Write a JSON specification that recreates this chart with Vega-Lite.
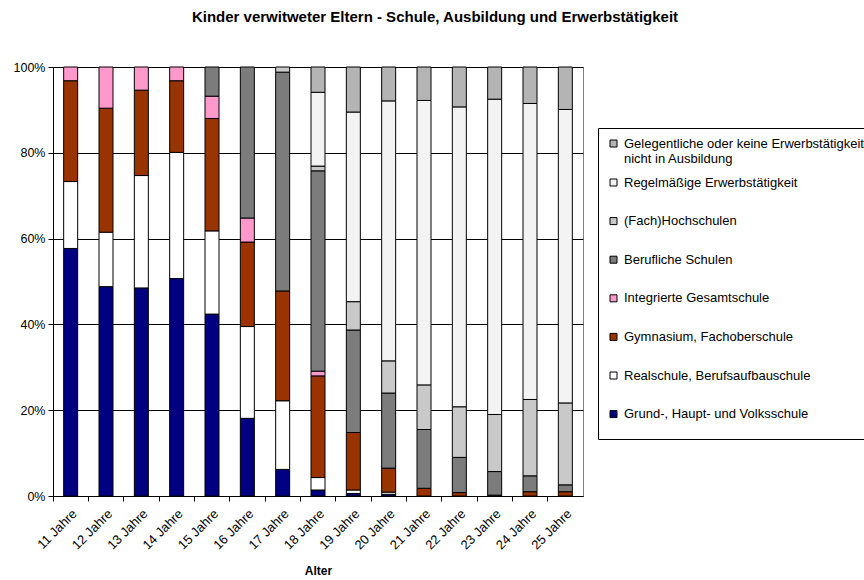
{
  "$schema": "https://vega.github.io/schema/vega-lite/v6.json",
  "autosize": "none",
  "width": 530,
  "height": 429,
  "padding": {"left": 53, "top": 67, "right": 281, "bottom": 84},
  "background": "white",
  "title": {
    "text": "Kinder verwitweter Eltern - Schule, Ausbildung und Erwerbstätigkeit",
    "font": "Liberation Sans",
    "fontSize": 15,
    "fontWeight": "bold",
    "color": "#000",
    "anchor": "middle",
    "dx": 117,
    "offset": 36
  },
  "data": {
    "values": [
      {"Alter": "11 Jahre", "Grund-, Haupt- und Volksschule": 57.7, "Realschule, Berufsaufbauschule": 15.6, "Gymnasium, Fachoberschule": 23.5, "Integrierte Gesamtschule": 3.2},
      {"Alter": "12 Jahre", "Grund-, Haupt- und Volksschule": 48.8, "Realschule, Berufsaufbauschule": 12.7, "Gymnasium, Fachoberschule": 28.9, "Integrierte Gesamtschule": 9.6},
      {"Alter": "13 Jahre", "Grund-, Haupt- und Volksschule": 48.5, "Realschule, Berufsaufbauschule": 26.2, "Gymnasium, Fachoberschule": 19.9, "Integrierte Gesamtschule": 5.4},
      {"Alter": "14 Jahre", "Grund-, Haupt- und Volksschule": 50.7, "Realschule, Berufsaufbauschule": 29.4, "Gymnasium, Fachoberschule": 16.7, "Integrierte Gesamtschule": 3.2},
      {"Alter": "15 Jahre", "Grund-, Haupt- und Volksschule": 42.4, "Realschule, Berufsaufbauschule": 19.4, "Gymnasium, Fachoberschule": 26.2, "Integrierte Gesamtschule": 5.2, "Berufliche Schulen": 6.8},
      {"Alter": "16 Jahre", "Grund-, Haupt- und Volksschule": 18.1, "Realschule, Berufsaufbauschule": 21.4, "Gymnasium, Fachoberschule": 19.7, "Integrierte Gesamtschule": 5.6, "Berufliche Schulen": 35.2},
      {"Alter": "17 Jahre", "Grund-, Haupt- und Volksschule": 6.2, "Realschule, Berufsaufbauschule": 16.0, "Gymnasium, Fachoberschule": 25.6, "Berufliche Schulen": 51.0, "(Fach)Hochschulen": 1.2},
      {"Alter": "18 Jahre", "Grund-, Haupt- und Volksschule": 1.4, "Realschule, Berufsaufbauschule": 2.9, "Gymnasium, Fachoberschule": 23.7, "Integrierte Gesamtschule": 1.1, "Berufliche Schulen": 46.7, "(Fach)Hochschulen": 1.1, "Regelmäßige Erwerbstätigkeit": 17.2, "Gelegentliche oder keine Erwerbstätigkeit nicht in Ausbildung": 5.9},
      {"Alter": "19 Jahre", "Grund-, Haupt- und Volksschule": 0.6, "Realschule, Berufsaufbauschule": 0.8, "Gymnasium, Fachoberschule": 13.4, "Berufliche Schulen": 23.9, "(Fach)Hochschulen": 6.6, "Regelmäßige Erwerbstätigkeit": 44.2, "Gelegentliche oder keine Erwerbstätigkeit nicht in Ausbildung": 10.5},
      {"Alter": "20 Jahre", "Grund-, Haupt- und Volksschule": 0.4, "Realschule, Berufsaufbauschule": 0.5, "Gymnasium, Fachoberschule": 5.6, "Berufliche Schulen": 17.5, "(Fach)Hochschulen": 7.5, "Regelmäßige Erwerbstätigkeit": 60.6, "Gelegentliche oder keine Erwerbstätigkeit nicht in Ausbildung": 7.9},
      {"Alter": "21 Jahre", "Gymnasium, Fachoberschule": 1.8, "Berufliche Schulen": 13.7, "(Fach)Hochschulen": 10.4, "Regelmäßige Erwerbstätigkeit": 66.3, "Gelegentliche oder keine Erwerbstätigkeit nicht in Ausbildung": 7.8},
      {"Alter": "22 Jahre", "Gymnasium, Fachoberschule": 0.8, "Berufliche Schulen": 8.2, "(Fach)Hochschulen": 11.8, "Regelmäßige Erwerbstätigkeit": 69.9, "Gelegentliche oder keine Erwerbstätigkeit nicht in Ausbildung": 9.3},
      {"Alter": "23 Jahre", "Gymnasium, Fachoberschule": 0.2, "Berufliche Schulen": 5.5, "(Fach)Hochschulen": 13.3, "Regelmäßige Erwerbstätigkeit": 73.5, "Gelegentliche oder keine Erwerbstätigkeit nicht in Ausbildung": 7.5},
      {"Alter": "24 Jahre", "Gymnasium, Fachoberschule": 1.0, "Berufliche Schulen": 3.7, "(Fach)Hochschulen": 17.8, "Regelmäßige Erwerbstätigkeit": 69.0, "Gelegentliche oder keine Erwerbstätigkeit nicht in Ausbildung": 8.5},
      {"Alter": "25 Jahre", "Gymnasium, Fachoberschule": 1.0, "Berufliche Schulen": 1.6, "(Fach)Hochschulen": 19.1, "Regelmäßige Erwerbstätigkeit": 68.4, "Gelegentliche oder keine Erwerbstätigkeit nicht in Ausbildung": 9.9}
    ]
  },
  "transform": [
    {"fold": ["Grund-, Haupt- und Volksschule", "Realschule, Berufsaufbauschule", "Gymnasium, Fachoberschule", "Integrierte Gesamtschule", "Berufliche Schulen", "(Fach)Hochschulen", "Regelmäßige Erwerbstätigkeit", "Gelegentliche oder keine Erwerbstätigkeit nicht in Ausbildung"], "as": ["Kategorie", "Anteil"]},
    {"filter": "datum.Anteil > 0"},
    {"calculate": "indexof(['Grund-, Haupt- und Volksschule', 'Realschule, Berufsaufbauschule', 'Gymnasium, Fachoberschule', 'Integrierte Gesamtschule', 'Berufliche Schulen', '(Fach)Hochschulen', 'Regelmäßige Erwerbstätigkeit', 'Gelegentliche oder keine Erwerbstätigkeit nicht in Ausbildung'], datum.Kategorie)", "as": "Reihenfolge"}
  ],
  "encoding": {
    "x": {
      "field": "Alter",
      "type": "nominal",
      "scale": {"paddingInner": 0, "paddingOuter": 0},
      "axis": {
        "title": "Alter",
        "titleFont": "Liberation Sans",
        "titleFontSize": 12,
        "titleFontWeight": "bold",
        "titleColor": "#000",
        "titlePadding": 14,
        "labelAngle": -45,
        "labelAlign": "right",
        "labelBaseline": "top",
        "labelFont": "Liberation Sans",
        "labelFontSize": 13,
        "labelColor": "#000",
        "labelPadding": 6,
        "bandPosition": 0,
        "tickSize": 5,
        "tickColor": "#000",
        "domainColor": "#000",
        "grid": false
      }
    }
  },
  "layer": [
    {
      "mark": {"type": "bar", "size": 14, "stroke": "#000", "strokeWidth": 1},
      "encoding": {
        "y": {
          "field": "Anteil",
          "type": "quantitative",
          "stack": "normalize",
          "axis": {
            "title": null,
            "values": [0, 0.2, 0.4, 0.6, 0.8, 1],
            "format": ".0%",
            "labelFont": "Liberation Sans",
            "labelFontSize": 12.5,
            "labelColor": "#000",
            "labelPadding": 3,
            "tickSize": 5,
            "tickColor": "#000",
            "domainColor": "#000",
            "grid": true,
            "gridColor": "#000",
            "gridOpacity": 1
          }
        },
        "order": {"field": "Reihenfolge", "type": "quantitative", "sort": "ascending"},
        "color": {
          "field": "Kategorie",
          "type": "nominal",
          "scale": {
            "domain": ["Gelegentliche oder keine Erwerbstätigkeit nicht in Ausbildung", "Regelmäßige Erwerbstätigkeit", "(Fach)Hochschulen", "Berufliche Schulen", "Integrierte Gesamtschule", "Gymnasium, Fachoberschule", "Realschule, Berufsaufbauschule", "Grund-, Haupt- und Volksschule"],
            "range": ["#b4b4b4", "#f3f3f3", "#c9c9c9", "#7c7c7c", "#ff99cc", "#993300", "#ffffff", "#000080"]
          },
          "legend": {
            "values": ["Regelmäßige Erwerbstätigkeit", "(Fach)Hochschulen", "Berufliche Schulen", "Integrierte Gesamtschule", "Gymnasium, Fachoberschule", "Realschule, Berufsaufbauschule", "Grund-, Haupt- und Volksschule"],
            "title": " ",
            "titleFontSize": 13,
            "titlePadding": 24,
            "orient": "none",
            "legendX": 545,
            "legendY": 63,
            "direction": "vertical",
            "padding": 9,
            "symbolType": "square",
            "symbolSize": 49,
            "symbolStrokeColor": "#000",
            "symbolStrokeWidth": 1,
            "symbolOpacity": 1,
            "labelFont": "Liberation Sans",
            "labelFontSize": 13,
            "labelColor": "#000",
            "labelOffset": 4,
            "labelLimit": 300,
            "rowPadding": 24.6
          }
        }
      }
    },
    {
      "transform": [{"filter": "datum.Kategorie == 'Gelegentliche oder keine Erwerbstätigkeit nicht in Ausbildung'"}],
      "mark": {"type": "square", "filled": true, "opacity": 0, "size": 1},
      "encoding": {
        "color": {
          "field": "Kategorie",
          "type": "nominal",
          "scale": {"domain": ["Gelegentliche oder keine Erwerbstätigkeit nicht in Ausbildung"], "range": ["#b4b4b4"]},
          "legend": {
            "title": " ",
            "titleOrient": "bottom",
            "titleFontSize": 13,
            "titlePadding": 251,
            "orient": "none",
            "legendX": 545,
            "legendY": 61,
            "padding": 9,
            "strokeColor": "#000",
            "symbolType": "square",
            "symbolSize": 49,
            "symbolStrokeColor": "#000",
            "symbolStrokeWidth": 1,
            "symbolOpacity": 1,
            "labelFont": "Liberation Sans",
            "labelFontSize": 13,
            "labelColor": "#000",
            "labelOffset": 4,
            "labelLimit": 300,
            "labelExpr": "['Gelegentliche oder keine Erwerbstätigkeit', 'nicht in Ausbildung']"
          }
        }
      }
    }
  ],
  "resolve": {"scale": {"color": "independent"}, "legend": {"color": "independent"}},
  "config": {
    "view": {"stroke": "#808080", "strokeWidth": 1},
    "font": "Liberation Sans"
  }
}
